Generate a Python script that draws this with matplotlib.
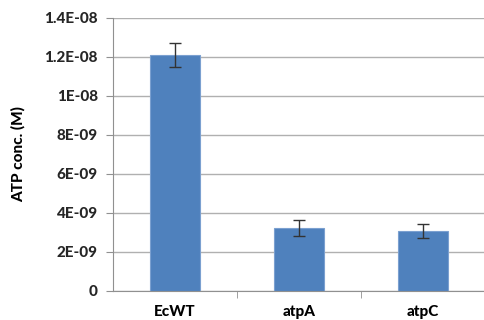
import matplotlib
matplotlib.use("Agg")
import matplotlib.pyplot as plt
import numpy as np

strains = ["EcWT", "atpA", "atpC"]
atp_conc = [1.21e-08, 3.22e-09, 3.05e-09]
atp_err = [0.6e-09, 0.42e-09, 0.36e-09]
yticks = [0, 2e-09, 4e-09, 6e-09, 8e-09, 1e-08, 1.2e-08, 1.4e-08]
ytick_labels = ["0", "2E-09", "4E-09", "6E-09", "8E-09", "1E-08", "1.2E-08", "1.4E-08"]

plt.rcParams["font.family"] = ["Lato", "DejaVu Sans"]
WEIGHT = "black"

fig = plt.figure(figsize=(4.85, 3.2), dpi=100)
ax = fig.add_axes([0.233, 0.091, 0.767, 0.853])

x = np.arange(len(strains))
ax.bar(x, atp_conc, width=0.4, color="#4f81bd", edgecolor="#7ba0d0", linewidth=0.8, zorder=2)
ax.errorbar(x, atp_conc, yerr=atp_err, fmt="none", ecolor="#333333", elinewidth=1,
            capsize=4, capthick=1, zorder=3)

ax.set_xlim(-0.5, 2.5)
ax.set_ylim(0, 1.4e-08)
ax.set_yticks(yticks)
ax.set_yticklabels(ytick_labels, fontsize=11, fontweight=WEIGHT)
ax.yaxis.grid(True, color="#b0b0b0", linewidth=1, zorder=0)
ax.set_axisbelow(True)

ax.set_xticks(x)
ax.set_xticklabels(strains, fontsize=11, fontweight=WEIGHT)
ax.tick_params(axis="x", length=0, pad=10)
ax.set_xticks([0.5, 1.5], minor=True)
ax.tick_params(axis="x", which="minor", length=5, color="#909090")
ax.tick_params(axis="y", length=5, color="#909090", pad=6, labelcolor="#262626")

for side in ("top", "right"):
    ax.spines[side].set_visible(False)
for side in ("left", "bottom"):
    ax.spines[side].set_color("#909090")

ax.set_ylabel("ATP conc. (M)", fontsize=11, fontweight=WEIGHT, labelpad=13)

fig.savefig("out.png", dpi=100)
